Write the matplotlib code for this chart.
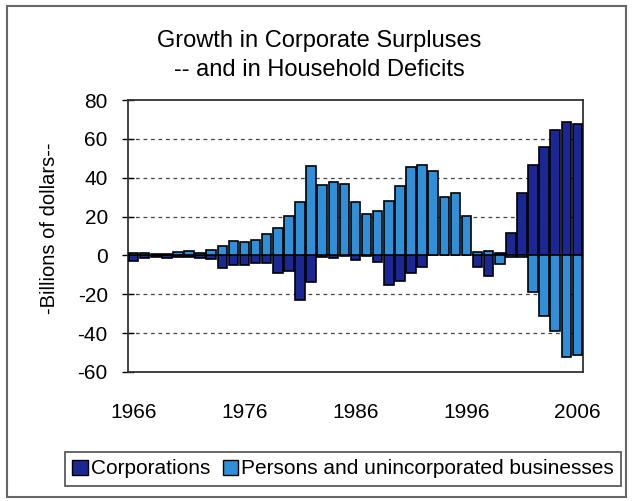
import matplotlib
matplotlib.use("Agg")
import matplotlib.pyplot as plt
from matplotlib.patches import Patch, Rectangle
import numpy as np

plt.rcParams['font.family'] = ['Liberation Sans', 'DejaVu Sans']

# data (billions of dollars)
years = list(range(1966, 2007))
corporations = [
    -3, -1.5, -1, -1.5, -1, -1, -1.5, -2, -6.5, -5,        # 1966-1975
    -5, -4, -4, -9, -8, -23, -13.5, -1, -1.5, -0.5,         # 1976-1985
    -2.5, -0.5, -3.5, -15, -13, -9, -6, 0, 0, 0,            # 1986-1995
    0, -6, -10.5, 1, 11.5, 32, 46.5, 56, 64.5, 68.5,        # 1996-2005
    67.5,                                                   # 2006
]
persons = [
    1, 1.5, 0.5, 0.5, 2, 2.5, 1.5, 3, 5, 7.5,
    7, 8, 11, 14, 20.5, 27.5, 46, 36, 38, 37,
    27.5, 21.5, 23, 28, 35.5, 45.5, 46.5, 43.5, 30, 32,
    20.5, 2, 2.5, -4.5, -1, -1, -19, -31, -39, -52.5,
    -51.5,
]
tick_years = [1966, 1976, 1986, 1996, 2006]
y_ticks = [-60, -40, -20, 0, 20, 40, 60, 80]

corp_color = '#1c2796'
pers_color = '#2f8fd8'

W, H = 635, 501
fig = plt.figure(figsize=(W / 100, H / 100), dpi=100)
fig.patch.set_facecolor('white')

# plot area in pixel terms
left, right, top, bottom = 128, 583, 100, 372
ax = fig.add_axes([left / W, 1 - bottom / H, (right - left) / W, (bottom - top) / H])

x = np.arange(len(years))
corp = np.array(corporations, dtype=float)
pers = np.array(persons, dtype=float)
# Excel-style stacking: positives stack up, negatives stack down
pers_bottom = np.where(np.sign(pers) == np.sign(corp), corp, 0.0)

bw = 0.86
ax.bar(x, corp, width=bw, color=corp_color, edgecolor='black', linewidth=1.2, zorder=3)
ax.bar(x, pers, width=bw, bottom=pers_bottom, color=pers_color, edgecolor='black',
       linewidth=1.2, zorder=3)

ax.set_xlim(-0.5, len(years) - 0.5)
ax.set_ylim(-60, 80)
ax.set_yticks(y_ticks)
ax.set_yticklabels([str(v) for v in y_ticks], fontsize=15)
ax.set_xticks([years.index(yr) for yr in tick_years])
ax.set_xticklabels([str(yr) for yr in tick_years], fontsize=15)
ax.tick_params(axis='x', length=0, pad=22)
ax.tick_params(axis='y', direction='inout', length=9, width=1, pad=10)

for v in y_ticks:
    if v not in (-60, 0, 80):
        ax.axhline(v, color='#444444', linestyle=(0, (3, 3)), linewidth=0.9, zorder=1)

for sp in ax.spines.values():
    sp.set_color('#333333')
    sp.set_linewidth(1.3)

fig.text(319 / W, 1 - 41 / H, 'Growth in Corporate Surpluses', ha='center', va='center',
         fontsize=17)
fig.text(319 / W, 1 - 70 / H, '-- and in Household Deficits', ha='center', va='center',
         fontsize=17)
fig.text(50 / W, 1 - 228 / H, '-Billions of dollars--', ha='center', va='center',
         rotation=90, fontsize=14.5)

handles = [Patch(facecolor=corp_color, edgecolor='black'),
           Patch(facecolor=pers_color, edgecolor='black')]
leg = fig.legend(handles, ['Corporations', 'Persons and unincorporated businesses'],
                 loc='center', bbox_to_anchor=(343 / W, 1 - 469 / H), ncol=2,
                 fontsize=15, frameon=True, fancybox=False, edgecolor='#333333',
                 handlelength=0.75, handleheight=0.75, handletextpad=0.15,
                 columnspacing=0.6, borderpad=0.35, borderaxespad=0)
leg.get_frame().set_linewidth(1.3)

# outer chart frame
fig.patches.append(Rectangle((7 / W, 1 - 497 / H), (626 - 7) / W, (497 - 6) / H,
                             transform=fig.transFigure, fill=False,
                             edgecolor='#666666', linewidth=1.5))

fig.savefig('out.png', dpi=100)
